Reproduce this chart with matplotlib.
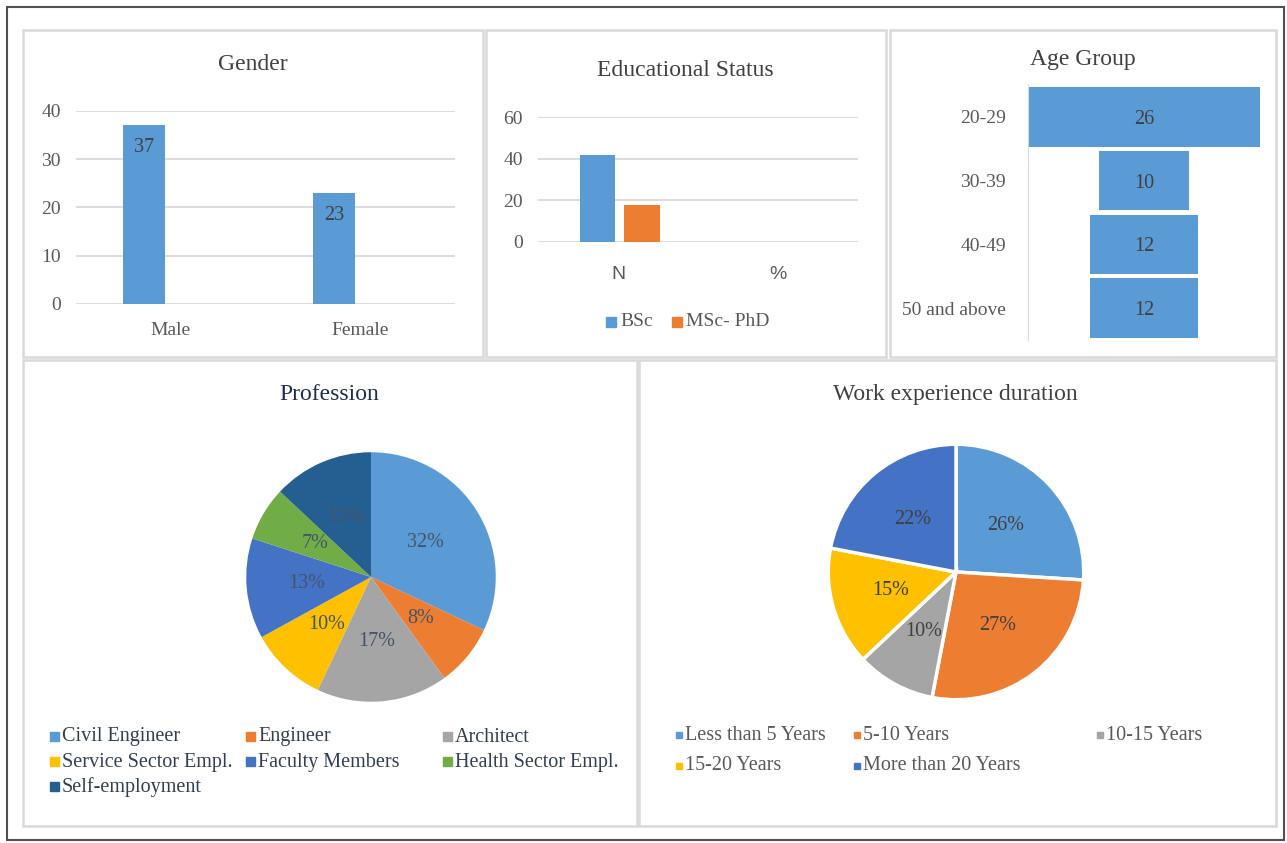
import numpy as np
import matplotlib
matplotlib.use('Agg')
from matplotlib import pyplot as plt
from matplotlib.patches import Rectangle

plt.rcParams['font.family'] = ['Liberation Serif', 'DejaVu Serif']

# aineisto
sukupuoli = ['Male', 'Female']
sukupuoli_n = [37, 23]

koulutus_luokat = ['N', '%']
bsc = [42, 0]
msc_phd = [18, 0]

ika_ryhmat = ['20-29', '30-39', '40-49', '50 and above']
ika_n = [26, 10, 12, 12]

ammatit = ['Civil Engineer', 'Engineer', 'Architect', 'Service Sector Empl.',
           'Faculty Members', 'Health Sector Empl.', 'Self-employment']
ammatti_pros = [32, 8, 17, 10, 13, 7, 13]

kokemus = ['Less than 5 Years', '5-10 Years', '10-15 Years', '15-20 Years',
           'More than 20 Years']
kokemus_pros = [26, 27, 10, 15, 22]

W, H = 1287, 843
SININEN = '#5B9BD5'
ORANSSI = '#ED7D31'
HARMAA = '#595959'
TEKSTI = '#404040'
RUUDUKKO = '#D9D9D9'

ammatti_varit = ['#5B9BD5', '#ED7D31', '#A5A5A5', '#FFC000', '#4472C4', '#70AD47', '#255E91']
kokemus_varit = ['#5B9BD5', '#ED7D31', '#A5A5A5', '#FFC000', '#4472C4']


def laatikko(x0, y0, x1, y1):
    # pikselit -> kuvan koordinaatit
    return [x0 / W, 1 - y1 / H, (x1 - x0) / W, (y1 - y0) / H]


def fx(x):
    return x / W


def fy(y):
    return 1 - y / H


fig = plt.figure(figsize=(W / 100, H / 100), dpi=100)

# ulkoreunus ja paneelien reunat
fig.add_artist(Rectangle((fx(7), fy(840)), fx(1284) - fx(7), fy(7) - fy(840),
                         transform=fig.transFigure, fill=False, edgecolor='#505050', lw=1.5))
for (x0, y0, x1, y1) in [(23, 30, 483, 357), (486, 30, 886, 357), (890, 30, 1276, 357),
                         (23, 360, 637, 826), (639, 360, 1276, 826)]:
    fig.add_artist(Rectangle((fx(x0), fy(y1)), fx(x1) - fx(x0), fy(y0) - fy(y1),
                             transform=fig.transFigure, fill=False, edgecolor=RUUDUKKO, lw=1.8))


def tyyli(ax):
    for s in ax.spines.values():
        s.set_visible(False)
    ax.tick_params(length=0, labelsize=14, labelcolor=HARMAA, pad=11)
    ax.grid(axis='y', color=RUUDUKKO, lw=1.3)
    ax.set_axisbelow(True)


# Gender
ax = fig.add_axes(laatikko(76, 111, 455, 304))
x = np.arange(len(sukupuoli))
palkit = ax.bar(x - 0.14, sukupuoli_n, width=0.22, color=SININEN)
ax.set_ylim(0, 40)
ax.set_xlim(-0.5, 1.5)
ax.set_yticks([0, 10, 20, 30, 40])
ax.set_xticks(x)
ax.set_xticklabels(sukupuoli)
tyyli(ax)
ax.tick_params(axis='x', pad=13)
for p, v in zip(palkit, sukupuoli_n):
    ax.annotate(str(v), (p.get_x() + p.get_width() / 2, v), xytext=(0, -16),
                textcoords='offset points', ha='center', va='center', fontsize=14.5, color=TEKSTI)
fig.text(fx(253), fy(65), 'Gender', ha='center', va='center', fontsize=17, color=TEKSTI)

# Educational Status
ax = fig.add_axes(laatikko(538, 117, 858, 242))
x = np.arange(len(koulutus_luokat))
ax.bar(x - 0.13, bsc, width=0.22, color=SININEN, label='BSc')
ax.bar(x + 0.15, msc_phd, width=0.22, color=ORANSSI, label='MSc- PhD')
ax.set_ylim(0, 60)
ax.set_xlim(-0.5, 1.5)
ax.set_yticks([0, 20, 40, 60])
ax.set_xticks(x)
ax.set_xticklabels(koulutus_luokat, family=['Liberation Sans', 'DejaVu Sans'])
tyyli(ax)
ax.tick_params(axis='x', pad=17)
fig.text(fx(685), fy(71), 'Educational Status', ha='center', va='center', fontsize=17, color=TEKSTI)
for (xs, teksti, vari) in [(606, 'BSc', SININEN), (672, 'MSc- PhD', ORANSSI)]:
    fig.add_artist(Rectangle((fx(xs), fy(327)), 10 / W, 10 / H, transform=fig.transFigure,
                             color=vari))
    fig.text(fx(xs + 14), fy(322), teksti, ha='left', va='center', fontsize=14, color=HARMAA)

# Age Group
ax = fig.add_axes(laatikko(1028, 85, 1260, 340))
y = np.arange(len(ika_ryhmat))
vals = np.array(ika_n)
ax.barh(y, vals, left=-vals / 2, height=0.93, color=SININEN)
ax.set_xlim(-13, 13)
ax.set_ylim(3.5, -0.5)
ax.set_yticks(y)
ax.set_yticklabels(ika_ryhmat)
ax.set_xticks([])
for s in ax.spines.values():
    s.set_visible(False)
ax.spines['left'].set_visible(True)
ax.spines['left'].set_color(RUUDUKKO)
ax.tick_params(length=0, labelsize=14, labelcolor=HARMAA, pad=16)
for yi, v in zip(y, ika_n):
    ax.text(0, yi + 0.04, str(v), ha='center', va='center', fontsize=14.5, color=TEKSTI)
fig.text(fx(1083), fy(60), 'Age Group', ha='center', va='center', fontsize=17, color=TEKSTI)

# Profession
R = 126
ax = fig.add_axes(laatikko(371 - R, 577 - R, 371 + R, 577 + R))
ax.pie(ammatti_pros, colors=ammatti_varit, startangle=90, counterclock=False,
       autopct='%d%%', pctdistance=0.52,
       textprops={'fontsize': 14.5, 'color': '#44546A'})
ax.set_xlim(-1.01, 1.01)
ax.set_ylim(-1.01, 1.01)
fig.text(fx(329), fy(394), 'Profession', ha='center', va='center', fontsize=17, color='#1F2D4D')
sarakkeet = [50, 246, 443]
rivit = [737, 762, 787]
for i, (nimi, vari) in enumerate(zip(ammatit, ammatti_varit)):
    xs = sarakkeet[i % 3]
    ys = rivit[i // 3]
    fig.add_artist(Rectangle((fx(xs), fy(ys + 4)), 9 / W, 9 / H, transform=fig.transFigure,
                             color=vari))
    fig.text(fx(xs + 12), fy(ys), nimi, ha='left', va='center', fontsize=14.5, color='#333F50')

# Work experience duration
R = 129
ax = fig.add_axes(laatikko(956 - R, 572 - R, 956 + R, 572 + R))
ax.pie(kokemus_pros, colors=kokemus_varit, startangle=90, counterclock=False,
       autopct='%d%%', pctdistance=0.53,
       wedgeprops={'edgecolor': 'white', 'linewidth': 2.5},
       textprops={'fontsize': 14.5, 'color': TEKSTI})
ax.set_xlim(-1.01, 1.01)
ax.set_ylim(-1.01, 1.01)
fig.text(fx(955), fy(394), 'Work experience duration', ha='center', va='center',
         fontsize=17, color=TEKSTI)
sarakkeet = [676, 854, 1097]
rivit = [735, 766]
for i, (nimi, vari) in enumerate(zip(kokemus, kokemus_varit)):
    xs = sarakkeet[i % 3]
    ys = rivit[i // 3]
    fig.add_artist(Rectangle((fx(xs), fy(ys + 3)), 6 / W, 6 / H, transform=fig.transFigure,
                             color=vari))
    fig.text(fx(xs + 9), fy(ys), nimi, ha='left', va='center', fontsize=14.5, color=HARMAA)

fig.savefig('out.png', dpi=100, facecolor='white')
